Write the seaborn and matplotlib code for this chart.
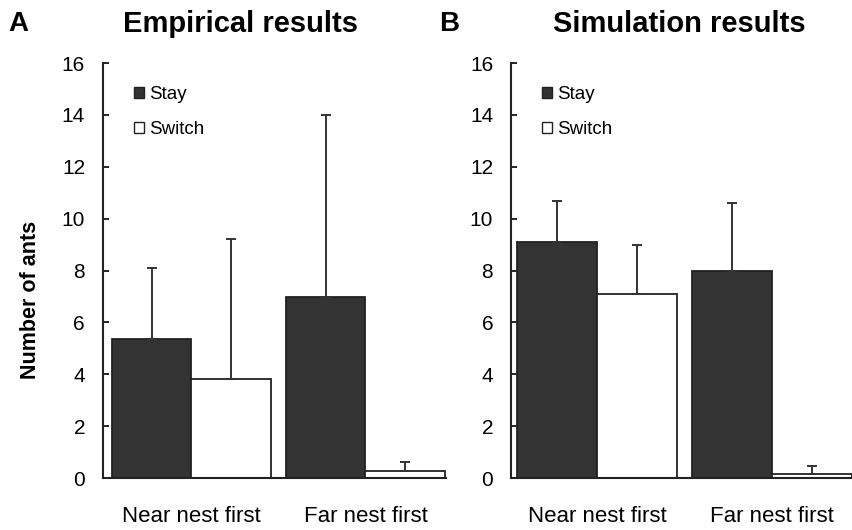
import pandas as pd
import numpy as np
import matplotlib.pyplot as plt
import seaborn as sns
from matplotlib.patches import Patch

# values
categories = ["Near nest first", "Far nest first"]
choices = ["Stay", "Switch"]

emp_stay = [5.37, 7.0]
emp_switch = [3.8, 0.26]
emp_stay_err = [2.73, 7.0]
emp_switch_err = [5.4, 0.37]

sim_stay = [9.11, 8.0]
sim_switch = [7.08, 0.15]
sim_stay_err = [1.57, 2.62]
sim_switch_err = [1.9, 0.3]

sns.set_style("ticks")
plt.rcParams['font.family'] = ['Liberation Sans', 'DejaVu Sans']
plt.rcParams['text.color'] = 'black'
plt.rcParams['xtick.color'] = 'black'
plt.rcParams['ytick.color'] = 'black'
plt.rcParams['axes.labelcolor'] = 'black'

colors = {"Stay": "#333333", "Switch": "white"}


def make_df(stay, switch):
    rows = []
    for i, c in enumerate(categories):
        rows.append({"trial": c, "choice": "Stay", "ants": stay[i]})
        rows.append({"trial": c, "choice": "Switch", "ants": switch[i]})
    return pd.DataFrame(rows)


def draw_panel(ax, stay, switch, stay_err, switch_err, xlim):
    df = make_df(stay, switch)
    sns.barplot(data=df, x="trial", y="ants", hue="choice", order=categories,
                hue_order=choices, palette=colors, edgecolor="#222222",
                linewidth=1.3, width=0.91, errorbar=None, legend=False, ax=ax)
    errs = [stay_err, switch_err]
    means = [stay, switch]
    bar_conts = list(ax.containers)
    for k, cont in enumerate(bar_conts):
        xs = [b.get_x() + b.get_width() / 2 for b in cont]
        ax.errorbar(xs, means[k], yerr=[np.zeros(len(xs)), errs[k]],
                    fmt="none", ecolor="#333333", elinewidth=1.4,
                    capsize=3.5, capthick=1.4, zorder=5)
    ax.set_ylim(0, 16)
    ax.set_yticks(range(0, 17, 2))
    ax.set_xlim(*xlim)
    ax.set_xlabel("")
    ax.set_ylabel("")
    ax.tick_params(axis="y", direction="in", length=4, width=1.2, labelsize=15, pad=13)
    ax.tick_params(axis="x", length=0, labelsize=16, pad=20)
    for s in ["left", "bottom"]:
        ax.spines[s].set_linewidth(1.5)
        ax.spines[s].set_color("#222222")
    sns.despine(ax=ax)
    handles = [Patch(facecolor=colors[c], edgecolor="#222222", linewidth=1.0, label=c) for c in choices]
    ax.legend(handles=handles, loc="upper left", bbox_to_anchor=(0.04, 0.985),
              frameon=False, fontsize=13.5, handlelength=0.55, handleheight=0.55,
              handletextpad=0.25, labelspacing=0.95)


fig = plt.figure(figsize=(8.52, 5.3), dpi=100)
ax1 = fig.add_axes([0.121, 0.098, 0.402, 0.783])
ax2 = fig.add_axes([0.600, 0.098, 0.400, 0.783])

draw_panel(ax1, emp_stay, emp_switch, emp_stay_err, emp_switch_err, (-0.506, 1.46))
draw_panel(ax2, sim_stay, sim_switch, sim_stay_err, sim_switch_err, (-0.489, 1.456))

ax1.set_ylabel("Number of ants", fontsize=15.5, fontweight="bold")
ax1.yaxis.set_label_coords(-0.18, 0.43)

fig.text(0.010, 0.955, "A", fontsize=20, fontweight="bold", va="center")
fig.text(0.282, 0.955, "Empirical results", fontsize=21, fontweight="bold", va="center", ha="center")
fig.text(0.515, 0.955, "B", fontsize=20, fontweight="bold", va="center")
fig.text(0.797, 0.955, "Simulation results", fontsize=21, fontweight="bold", va="center", ha="center")

fig.savefig("out.png", dpi=100)
